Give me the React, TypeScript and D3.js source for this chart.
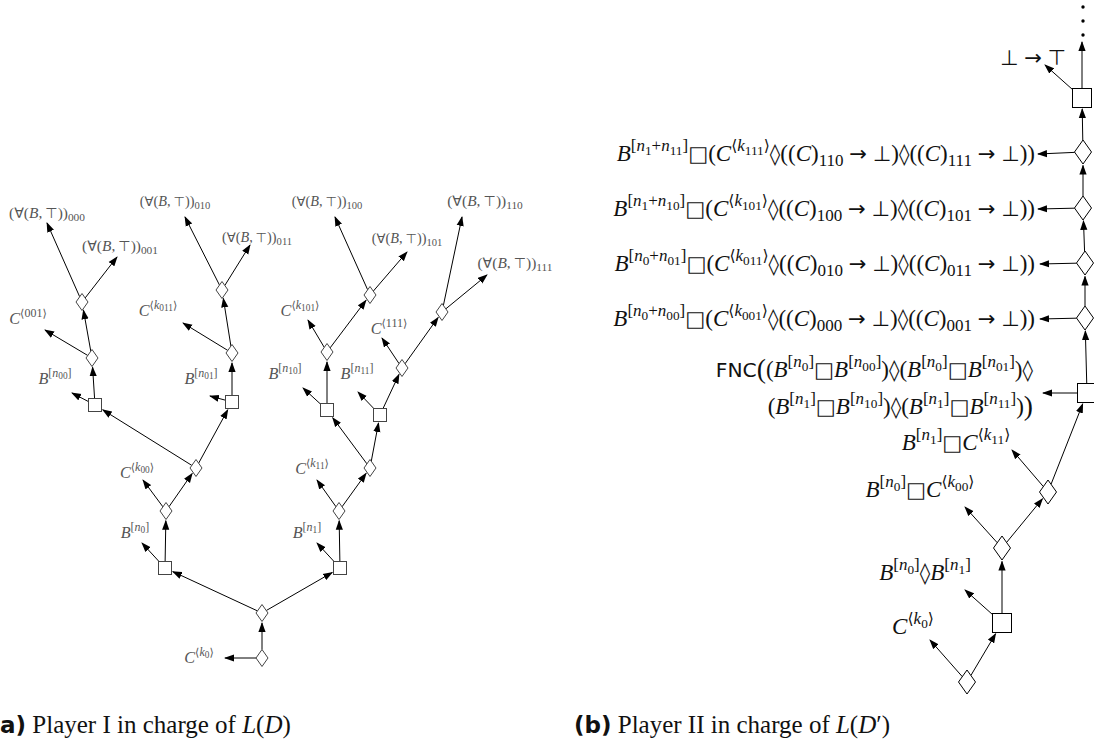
import React from 'react';
import * as d3 from 'd3';

const W = 1094;
const H = 744;

// grid units: 5px each, y counted from the bottom
const leftNodes = [
  { id: 'L0', kind: 'd', x: 52.4, y: 17.2 },
  { id: 'L1', kind: 'd', x: 52.4, y: 26.2 },
  { id: 'L2', kind: 's', x: 33, y: 35.2 },
  { id: 'L3', kind: 's', x: 68, y: 35.2 },
  { id: 'L4', kind: 'd', x: 33.2, y: 46.6 },
  { id: 'L5', kind: 'd', x: 67.8, y: 46.6 },
  { id: 'L6', kind: 'd', x: 39.2, y: 55.2 },
  { id: 'L7', kind: 'd', x: 74, y: 55.2 },
  { id: 'L8', kind: 's', x: 19, y: 67.8 },
  { id: 'L9', kind: 's', x: 46.4, y: 68.4 },
  { id: 'L10', kind: 's', x: 65.4, y: 66.8 },
  { id: 'L11', kind: 's', x: 76, y: 65.8 },
  { id: 'L12', kind: 'd', x: 18.4, y: 77.2 },
  { id: 'L13', kind: 'd', x: 46.4, y: 78.2 },
  { id: 'L14', kind: 'd', x: 65.4, y: 78.4 },
  { id: 'L15', kind: 'd', x: 80.4, y: 75.2 },
  { id: 'L16', kind: 'd', x: 16.4, y: 88.4 },
  { id: 'L17', kind: 'd', x: 44.4, y: 90.8 },
  { id: 'L18', kind: 'd', x: 74, y: 89.8 },
  { id: 'L19', kind: 'd', x: 88.4, y: 86.4 },
];

const leftEdges = [
  ['L0', 'L1'], ['L1', 'L2'], ['L1', 'L3'], ['L2', 'L4'], ['L3', 'L5'],
  ['L4', 'L6'], ['L5', 'L7'], ['L6', 'L8'], ['L6', 'L9'], ['L7', 'L10'], ['L7', 'L11'],
  ['L8', 'L12'], ['L9', 'L13'], ['L10', 'L14'], ['L11', 'L15'],
  ['L12', 'L16'], ['L13', 'L17'], ['L14', 'L18'], ['L15', 'L19'],
];

// tier: 0 = small quantifier label, 1 = large quantifier label, 2 = B / C label
const leftLeaves = [
  { from: 'L0', tip: [45, 17.2], at: [39.8, 17.4], tex: 'C^{⟨k_{0}⟩}', tier: 2 },
  { from: 'L2', tip: [28.4, 40.2], at: [27, 42.4], tex: 'B^{[n_{0}]}', tier: 2 },
  { from: 'L4', tip: [28.6, 52.8], at: [27.4, 54.4], tex: 'C^{⟨k_{00}⟩}', tier: 2 },
  { from: 'L3', tip: [63.4, 40.2], at: [61.4, 42.4], tex: 'B^{[n_{1}]}', tier: 2 },
  { from: 'L5', tip: [63.4, 52.8], at: [62.4, 55.2], tex: 'C^{⟨k_{11}⟩}', tier: 2 },
  { from: 'L8', tip: [14.4, 70.2], at: [11, 73.2], tex: 'B^{[n_{00}]}', tier: 2 },
  { from: 'L12', tip: [9, 82.8], at: [5.6, 85.2], tex: 'C^{⟨001⟩}', tier: 2 },
  { from: 'L16', tip: [9.4, 104.2], at: [9.4, 106.4], tex: '(∀(B,\u2009⊤))_{000}', tier: 1 },
  { from: 'L16', tip: [23.4, 97.4], at: [24, 99.8], tex: '(∀(B,\u2009⊤))_{001}', tier: 1 },
  { from: 'L9', tip: [42, 69.6], at: [40.2, 73.2], tex: 'B^{[n_{01}]}', tier: 2 },
  { from: 'L13', tip: [36.6, 84.2], at: [31.6, 86.8], tex: 'C^{⟨k_{011}⟩}', tier: 2 },
  { from: 'L17', tip: [37, 105.4], at: [35, 108.8], tex: '(∀(B,\u2009⊤))_{010}', tier: 0 },
  { from: 'L17', tip: [50, 99.8], at: [51.4, 101.6], tex: '(∀(B,\u2009⊤))_{011}', tier: 0 },
  { from: 'L10', tip: [60.6, 71.2], at: [57, 74.2], tex: 'B^{[n_{10}]}', tier: 2 },
  { from: 'L14', tip: [61.6, 84.8], at: [60, 86.8], tex: 'C^{⟨k_{101}⟩}', tier: 2 },
  { from: 'L18', tip: [67, 105.4], at: [65.4, 108.8], tex: '(∀(B,\u2009⊤))_{100}', tier: 0 },
  { from: 'L18', tip: [81.4, 98.4], at: [81.4, 101.4], tex: '(∀(B,\u2009⊤))_{101}', tier: 0 },
  { from: 'L11', tip: [71.6, 70.4], at: [71.4, 74.2], tex: 'B^{[n_{11}]}', tier: 2 },
  { from: 'L15', tip: [76.4, 81.2], at: [77.8, 83.2], tex: 'C^{⟨111⟩}', tier: 2 },
  { from: 'L19', tip: [92.4, 105.4], at: [97, 108.8], tex: '(∀(B,\u2009⊤))_{110}', tier: 1 },
  { from: 'L19', tip: [97.4, 93.8], at: [103, 96.4], tex: '(∀(B,\u2009⊤))_{111}', tier: 1 },
];

const rightNodes = [
  { id: 'R0', kind: 'd', x: 193.4, y: 12.4 },
  { id: 'R1', kind: 's', x: 200.4, y: 24.2 },
  { id: 'R2', kind: 'd', x: 200.4, y: 39.2 },
  { id: 'R3', kind: 'd', x: 209.6, y: 50.4 },
  { id: 'R4', kind: 's', x: 217.4, y: 70.2 },
  { id: 'R5', kind: 'd', x: 217, y: 85.2 },
  { id: 'R6', kind: 'd', x: 217, y: 96.2 },
  { id: 'R7', kind: 'd', x: 216.6, y: 107.2 },
  { id: 'R8', kind: 'd', x: 216.6, y: 118.4 },
  { id: 'R9', kind: 's', x: 216.4, y: 129.2 },
];

const rightEdges = [
  ['R0', 'R1'], ['R1', 'R2'], ['R2', 'R3'], ['R3', 'R4'], ['R4', 'R5'],
  ['R5', 'R6'], ['R6', 'R7'], ['R7', 'R8'], ['R8', 'R9'],
];

const rightLeaves = [
  { from: 'R0', tip: [186, 20.8], at: [182.6, 23.4], tex: 'C^{⟨k_{0}⟩}', anchor: 'middle' },
  { from: 'R1', tip: [193, 30.8], at: [185, 34.2], tex: 'B^{[n_{0}]}◊B^{[n_{1}]}', anchor: 'middle' },
  { from: 'R2', tip: [193, 47.4], at: [184, 50.8], tex: 'B^{[n_{0}]}□C^{⟨k_{00}⟩}', anchor: 'middle' },
  { from: 'R3', tip: [202.4, 58.8], at: [191.2, 60.2], tex: 'B^{[n_{1}]}□C^{⟨k_{11}⟩}', anchor: 'middle' },
  { from: 'R4', tip: [208.6, 70.2], at: null, tex: '', anchor: 'end' },
  { from: 'R5', tip: [208, 85], at: [207, 85], tex: 'B^{[n_{0}+n_{00}]}□(C^{⟨k_{001}⟩}◊((C)_{000} → ⊥)◊((C)_{001} → ⊥))', anchor: 'end' },
  { from: 'R6', tip: [208, 96], at: [207, 96], tex: 'B^{[n_{0}+n_{01}]}□(C^{⟨k_{011}⟩}◊((C)_{010} → ⊥)◊((C)_{011} → ⊥))', anchor: 'end' },
  { from: 'R7', tip: [207.6, 107], at: [207, 107], tex: 'B^{[n_{1}+n_{10}]}□(C^{⟨k_{101}⟩}◊((C)_{100} → ⊥)◊((C)_{101} → ⊥))', anchor: 'end' },
  { from: 'R8', tip: [207.6, 118], at: [207, 118], tex: 'B^{[n_{1}+n_{11}]}□(C^{⟨k_{111}⟩}◊((C)_{110} → ⊥)◊((C)_{111} → ⊥))', anchor: 'end' },
  { from: 'R9', tip: [209, 135.8], at: [206.6, 137.2], tex: '⊥ → ⊤', anchor: 'middle' },
  { from: 'R9', tip: [216.4, 140.4], at: null, tex: '', anchor: 'end' },
];

const fncLines = [
  { at: [206.6, 74.8], tex: '\\sf{FNC}\\bg{(}(B^{[n_{0}]}□B^{[n_{00}]})◊(B^{[n_{0}]}□B^{[n_{01}]})◊' },
  { at: [206.6, 67.4], tex: '(B^{[n_{1}]}□B^{[n_{10}]})◊(B^{[n_{1}]}□B^{[n_{11}]})\\bg{)}' },
];

const dots = [[216.6, 147.4], [216.6, 144.6], [216.6, 141.8]];

const captions = [
  { x: 0, tag: 'a)', who: 'I', prime: '' },
  { x: 114.8, tag: '(b)', who: 'II', prime: '′' },
];

const SERIF = '"Liberation Serif", "DejaVu Serif", serif';
const SANS = '"DejaVu Sans", "Liberation Sans", sans-serif';
const SYM = '"DejaVu Sans", sans-serif';
const SYMBOLS = '□◊→⊥⊤∀⟨⟩';

type Seg = { t: string; size: number; shift: number; it: boolean; font: string };

function parseTex(src: string, size: number, shift: number, depth: number, sans: boolean, out: Seg[]) {
  let i = 0;
  const group = () => {
    if (src[i] === '{') {
      let d = 0;
      let j = i;
      for (; j < src.length; j++) {
        if (src[j] === '{') d++;
        if (src[j] === '}') { d--; if (d === 0) break; }
      }
      const g = src.slice(i + 1, j);
      i = j + 1;
      return g;
    }
    const g = src[i];
    i++;
    return g;
  };
  while (i < src.length) {
    const c = src[i];
    if (c === '^' || c === '_') {
      i++;
      const g = group();
      const s2 = size * (depth === 0 ? 0.74 : 0.78);
      const sh = c === '^' ? shift - size * 0.42 : shift + size * 0.22;
      parseTex(g, s2, sh, depth + 1, sans, out);
    } else if (c === '\\' && src.startsWith('\\sf', i)) {
      i += 3;
      const g = group();
      parseTex(g, size * 0.88, shift, depth, true, out);
    } else if (c === '\\' && src.startsWith('\\bg', i)) {
      i += 3;
      const g = group();
      parseTex(g, size * 1.2, shift + size * 0.07, depth, sans, out);
    } else {
      const sym = SYMBOLS.includes(c);
      const font = sans ? SANS : sym ? SYM : SERIF;
      const it = !sans && /[A-Za-z]/.test(c);
      const sz = sym ? size * 0.92 : size;
      const last = out[out.length - 1];
      if (last && last.size === sz && last.shift === shift && last.it === it && last.font === font) {
        last.t += c;
      } else {
        out.push({ t: c, size: sz, shift, it, font });
      }
      i++;
    }
  }
  return out;
}

function Tex({ tex, x, y, size, anchor, fill }: { tex: string; x: number; y: number; size: number; anchor: string; fill: string }) {
  const segs = parseTex(tex, size, 0, 0, false, []);
  let prev = 0;
  return (
    <text x={x} y={y} textAnchor={anchor} fill={fill} fontFamily={SERIF} style={{ whiteSpace: 'pre' }}>
      {segs.map((s, i) => {
        const dy = s.shift - prev;
        prev = s.shift;
        return (
          <tspan key={i} dy={dy} fontSize={s.size} fontStyle={s.it ? 'italic' : 'normal'}
            fontFamily={s.font}>{s.t}</tspan>
        );
      })}
    </text>
  );
}

const x = d3.scaleLinear().domain([0, 218.8]).range([0, W]);
const y = d3.scaleLinear().domain([0, 148.8]).range([H, 0]);

type Node = { id: string; kind: string; x: number; y: number };

function reach(kind: string, ux: number, uy: number, hw: number, hh: number, hs: number) {
  if (kind === 'd') return 1 / (Math.abs(ux) / hw + Math.abs(uy) / hh);
  return hs / Math.max(Math.abs(ux), Math.abs(uy));
}

function Tree({ nodes, edges, leaves, hw, hh, hs, stroke }: any) {
  const byId = new Map<string, Node>(nodes.map((n: Node) => [n.id, n]));
  const seg = (a: Node, bx: number, by: number, b: Node | null) => {
    const ax = x(a.x), ay = y(a.y);
    const dx = bx - ax, dy = by - ay;
    const len = Math.hypot(dx, dy);
    const ux = dx / len, uy = dy / len;
    const r0 = reach(a.kind, ux, uy, hw, hh, hs);
    const r1 = b ? reach(b.kind, ux, uy, hw, hh, hs) + 1.5 : 0;
    return { x1: ax + ux * r0, y1: ay + uy * r0, x2: bx - ux * r1, y2: by - uy * r1 };
  };
  return (
    <g>
      {edges.map(([a, b]: string[], i: number) => {
        const na = byId.get(a)!, nb = byId.get(b)!;
        const s = seg(na, x(nb.x), y(nb.y), nb);
        return <line key={'e' + i} {...s} stroke="#000" strokeWidth={1} markerEnd="url(#arr)" />;
      })}
      {leaves.map((l: any, i: number) => {
        const na = byId.get(l.from)!;
        const s = seg(na, x(l.tip[0]), y(l.tip[1]), null);
        return <line key={'l' + i} {...s} stroke="#000" strokeWidth={1} markerEnd="url(#arr)" />;
      })}
      {nodes.map((n: Node) => n.kind === 'd' ? (
        <path key={n.id} d={`M0,${-hh}L${hw},0L0,${hh}L${-hw},0Z`} transform={`translate(${x(n.x)},${y(n.y)})`}
          fill="#fff" stroke={stroke} strokeWidth={1} />
      ) : (
        <rect key={n.id} x={x(n.x) - hs} y={y(n.y) - hs} width={hs * 2} height={hs * 2}
          fill="#fff" stroke={stroke} strokeWidth={1} />
      ))}
    </g>
  );
}

const tierSize = [14.3, 15.4, 16.2];

export default function App() {
  return (
    <svg width={W} height={H} style={{ position: 'absolute', left: 0, top: 0, background: '#fff' }}>
      <defs>
        <marker id="arr" viewBox="0 -4 10 8" refX={9} refY={0} markerWidth={10} markerHeight={8}
          markerUnits="userSpaceOnUse" orient="auto">
          <path d="M0,-3.6L10,0L0,3.6Z" fill="#000" />
        </marker>
      </defs>

      <Tree nodes={leftNodes} edges={leftEdges} leaves={leftLeaves} hw={6} hh={8.5} hs={6.5} stroke="#444" />
      {leftLeaves.map((l, i) => (
        <Tex key={'lt' + i} tex={l.tex} x={x(l.at[0])} y={y(l.at[1]) + 5.5}
          size={tierSize[l.tier]} anchor="middle" fill="#555" />
      ))}

      <Tree nodes={rightNodes} edges={rightEdges} leaves={rightLeaves} hw={8.5} hh={12} hs={9.5} stroke="#000" />
      {rightLeaves.filter(l => l.at).map((l, i) => (
        <Tex key={'rt' + i} tex={l.tex} x={x(l.at![0])} y={y(l.at![1]) + 6.5}
          size={23} anchor={l.anchor} fill="#111" />
      ))}
      {fncLines.map((l, i) => (
        <Tex key={'f' + i} tex={l.tex} x={x(l.at[0])} y={y(l.at[1]) + 6.5} size={23} anchor="end" fill="#111" />
      ))}
      {dots.map((d, i) => <circle key={'d' + i} cx={x(d[0])} cy={y(d[1])} r={1.7} fill="#000" />)}

      {captions.map((c, i) => (
        <text key={'c' + i} x={x(c.x)} y={733} fontFamily={SERIF} fontSize={25} fill="#111" style={{ whiteSpace: 'pre' }}>
          <tspan fontFamily={SANS} fontWeight="bold" fontSize={23}>{c.tag}</tspan>
          <tspan>{` Player ${c.who} in charge of `}</tspan>
          <tspan fontStyle="italic">L</tspan>(<tspan fontStyle="italic">D</tspan>{c.prime})
        </text>
      ))}
    </svg>
  );
}
